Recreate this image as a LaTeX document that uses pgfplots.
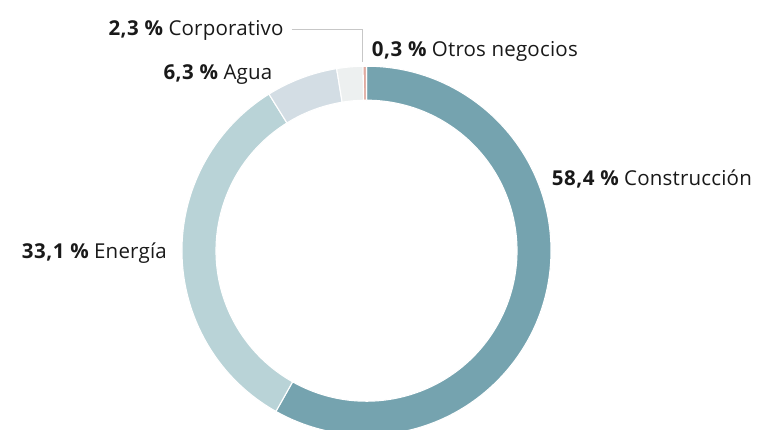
\documentclass[border=0pt]{standalone}
\usepackage{pgfplots}
\pgfplotsset{compat=1.18}
\usepackage{fontspec}
\setmainfont{Open Sans}
\definecolor{cCon}{RGB}{117,163,175}
\definecolor{cEne}{RGB}{185,211,215}
\definecolor{cAgu}{RGB}{211,221,228}
\definecolor{cCor}{RGB}{237,240,240}
\definecolor{cOtr}{RGB}{224,170,160}
\definecolor{txt}{RGB}{25,25,25}
% data (percent)
\def\vCon{58.4}
\def\vEne{33.1}
\def\vAgu{6.3}
\def\vCor{2.3}
\def\vOtr{0.3}
\pgfmathsetmacro\tot{\vCon+\vEne+\vAgu+\vCor+\vOtr}
\pgfmathsetmacro\aA{90}
\pgfmathsetmacro\aB{90-(\vCon)/\tot*360}
\pgfmathsetmacro\aC{90-(\vCon+\vEne)/\tot*360}
\pgfmathsetmacro\aD{90-(\vCon+\vEne+\vAgu)/\tot*360}
\pgfmathsetmacro\aE{90-(\vCon+\vEne+\vAgu+\vCor)/\tot*360}
\pgfmathsetmacro\aF{90-(\vCon+\vEne+\vAgu+\vCor+\vOtr)/\tot*360}
\def\Ro{184.5pt}
\def\Ri{150.5pt}
\newcommand\seg[3]{%
  \fill[#3,draw=white,line width=1.1pt] (#1:\Ro) arc[start angle=#1,end angle=#2,radius=\Ro]
     -- (#2:\Ri) arc[start angle=#2,end angle=#1,radius=\Ri] -- cycle;}
\newcommand\lab[2]{{\bfseries\addfontfeature{LetterSpace=2.5}#1}\ {\addfontfeature{LetterSpace=1}#2}}
\begin{document}
\begin{tikzpicture}
\begin{axis}[width=764pt,height=430pt,scale only axis,
  xmin=0,xmax=764,ymin=0,ymax=430,hide axis,clip=true]
\begin{scope}[shift={(axis cs:366.5,179.3)}]
\seg{\aA}{\aB}{cCon}
\seg{\aB}{\aC}{cEne}
\seg{\aC}{\aD}{cAgu}
\seg{\aD}{\aE}{cCor}
\seg{\aE}{\aF}{cOtr}
\end{scope}
\draw[black!22,line width=0.9pt] (axis cs:291.7,400.7) -- (axis cs:362,400.7) -- (axis cs:362,368);
\tikzset{lab/.style={anchor=base west,inner sep=0pt,text=txt,font=\fontsize{20.5}{24}\selectfont}}
\node[lab] at (axis cs:551.7,244) {\lab{58,4 \%}{Construcción}};
\node[lab] at (axis cs:21.7,171) {\lab{33,1 \%}{Energía}};
\node[lab] at (axis cs:163.3,350) {\lab{6,3 \%}{Agua}};
\node[lab] at (axis cs:108.3,394) {\lab{2,3 \%}{Corporativo}};
\node[lab] at (axis cs:371.7,373.3) {\lab{0,3 \%}{Otros negocios}};
\end{axis}
\pgfresetboundingbox
\useasboundingbox (0,0) rectangle (764pt,430pt);
\end{tikzpicture}
\end{document}
